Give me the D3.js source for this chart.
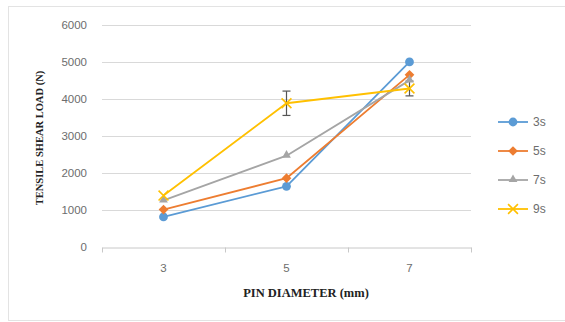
<!DOCTYPE html>
<html>
<head>
<meta charset="utf-8">
<script src="https://cdn.jsdelivr.net/npm/d3@7"></script>
<style>
  body { margin: 0; background: #fff; }
  text { font-family: "Liberation Sans", Arial, sans-serif; }
</style>
</head>
<body>
<div id="chart"></div>
<script>
// data
var categories = ["3", "5", "7"];
var seriesNames = ["3s", "5s", "7s", "9s"];
var values3s = [800, 1630, 5000];
var values5s = [1000, 1850, 4650];
var values7s = [1250, 2460, 4500];
var values9s = [1380, 3880, 4280];
var errors9s = [0, 330, 200];
var yTicks = [0, 1000, 2000, 3000, 4000, 5000, 6000];

var colors = ["#5B9BD5", "#ED7D31", "#A5A5A5", "#FFC000"];
var allValues = [values3s, values5s, values7s, values9s];

var W = 565, H = 322;
var svg = d3.select("#chart").append("svg")
    .attr("width", W)
    .attr("height", H);

// chart border
svg.append("rect")
    .attr("x", 8.5).attr("y", 6.5)
    .attr("width", W).attr("height", 314)
    .attr("fill", "#fff")
    .attr("stroke", "#e3e3e3");

// scales
var x = d3.scaleBand().domain(categories).range([102, 471]).padding(0);
var y = d3.scaleLinear().domain([0, 6000]).range([246.5, 25]);

// gridlines
svg.append("g")
    .selectAll("line")
    .data(yTicks.slice(1))
    .join("line")
    .attr("x1", 102).attr("x2", 471)
    .attr("y1", function(d) { return Math.round(y(d)) + 0.5; })
    .attr("y2", function(d) { return Math.round(y(d)) + 0.5; })
    .attr("stroke", "#d9d9d9")
    .attr("stroke-width", 1);

// y axis labels
var yAxis = svg.append("g")
    .attr("transform", "translate(102,0)")
    .call(d3.axisLeft(y).tickValues(yTicks).tickFormat(d3.format("d")).tickSize(0).tickPadding(15));
yAxis.select(".domain").remove();
yAxis.selectAll("text")
    .attr("fill", "#6d6d6d")
    .style("font-size", "11.5px");

// x axis
var xAxis = svg.append("g")
    .attr("transform", "translate(0," + (Math.round(y(0)) + 0.5) + ")")
    .call(d3.axisBottom(x).tickSize(0).tickPadding(16));
xAxis.select(".domain")
    .attr("stroke", "#c8c8c8");
xAxis.selectAll("text")
    .attr("fill", "#6d6d6d")
    .style("font-size", "11.5px");
// tick marks at the category boundaries
xAxis.selectAll(".bound")
    .data([x("3"), x("5"), x("7"), x("7") + x.bandwidth()])
    .join("line")
    .attr("class", "bound")
    .attr("x1", function(d) { return Math.round(d) + 0.5; })
    .attr("x2", function(d) { return Math.round(d) + 0.5; })
    .attr("y1", 0).attr("y2", 5)
    .attr("stroke", "#c8c8c8");

// axis titles
svg.append("text")
    .attr("transform", "translate(43,138) rotate(-90)")
    .attr("text-anchor", "middle")
    .style("font-family", "'Liberation Serif', 'Times New Roman', serif")
    .style("font-weight", "bold")
    .style("font-size", "10.5px")
    .attr("fill", "#222")
    .text("TENSILE SHEAR LOAD (N)");

svg.append("text")
    .attr("x", 306).attr("y", 297)
    .attr("text-anchor", "middle")
    .style("font-family", "'Liberation Serif', 'Times New Roman', serif")
    .style("font-weight", "bold")
    .style("font-size", "12.5px")
    .attr("fill", "#222")
    .text("PIN DIAMETER (mm)");

var cx = function(i) { return x(categories[i]) + x.bandwidth() / 2; };

// marker drawing
function drawMarker(g, k, px, py) {
    var c = colors[k];
    if (k === 0) {
        g.append("circle").attr("cx", px).attr("cy", py).attr("r", 4.4).attr("fill", c);
    } else if (k === 1) {
        g.append("path")
            .attr("d", d3.symbol().type(d3.symbolDiamond2).size(60)())
            .attr("transform", "translate(" + px + "," + py + ")")
            .attr("fill", c);
    } else if (k === 2) {
        g.append("path")
            .attr("d", d3.symbol().type(d3.symbolTriangle2).size(55)())
            .attr("transform", "translate(" + px + "," + (py - 0.5) + ")")
            .attr("fill", c);
    } else {
        g.append("path")
            .attr("d", d3.symbol().type(d3.symbolX).size(65)())
            .attr("transform", "translate(" + px + "," + py + ")")
            .attr("fill", "none")
            .attr("stroke", c)
            .attr("stroke-width", 1.6);
    }
}

// lines
var line = d3.line()
    .x(function(d, i) { return cx(i); })
    .y(function(d) { return y(d); });

allValues.forEach(function(vals, k) {
    svg.append("path")
        .datum(vals)
        .attr("fill", "none")
        .attr("stroke", colors[k])
        .attr("stroke-width", 1.8)
        .attr("stroke-linejoin", "round")
        .attr("d", line);
});

// error bars (9s)
var eg = svg.append("g").attr("stroke", "#555").attr("stroke-width", 1.2);
values9s.forEach(function(v, i) {
    var e = errors9s[i];
    if (!e) return;
    var px = cx(i);
    eg.append("line").attr("x1", px).attr("x2", px).attr("y1", y(v + e)).attr("y2", y(v - e));
    eg.append("line").attr("x1", px - 4).attr("x2", px + 4).attr("y1", y(v + e)).attr("y2", y(v + e));
    eg.append("line").attr("x1", px - 4).attr("x2", px + 4).attr("y1", y(v - e)).attr("y2", y(v - e));
});

// markers
var mg = svg.append("g");
allValues.forEach(function(vals, k) {
    vals.forEach(function(v, i) {
        drawMarker(mg, k, cx(i), y(v));
    });
});

// legend
var legend = svg.append("g");
seriesNames.forEach(function(name, k) {
    var ly = 122 + k * 29;
    legend.append("line")
        .attr("x1", 498).attr("x2", 528)
        .attr("y1", ly).attr("y2", ly)
        .attr("stroke", colors[k])
        .attr("stroke-width", 1.8);
    drawMarker(legend, k, 513, ly);
    legend.append("text")
        .attr("x", 533).attr("y", ly + 4)
        .attr("fill", "#6d6d6d")
        .style("font-size", "12px")
        .text(name);
});
</script>
</body>
</html>
